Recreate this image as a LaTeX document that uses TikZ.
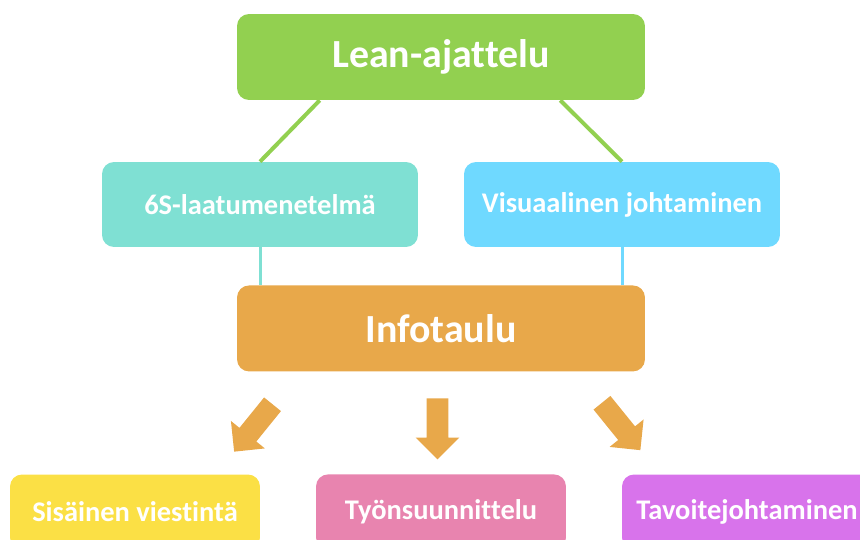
\documentclass[tikz,border=0pt]{standalone}
\usepackage{fontspec}
\setmainfont[Ligatures=CommonOff]{Carlito}
\usetikzlibrary{shapes.arrows}
\definecolor{leangreen}{HTML}{92D050}
\definecolor{sixteal}{HTML}{7FE0D3}
\definecolor{visblue}{HTML}{6FD9FF}
\definecolor{infoorange}{HTML}{E8A84A}
\definecolor{viestyellow}{HTML}{FBE045}
\definecolor{tyopink}{HTML}{E884AF}
\definecolor{tavpurple}{HTML}{D873EB}
\tikzset{
  box/.style={rounded corners=0.24cm, text=white, font=\bfseries, inner sep=0pt},
  bigbox/.style={box, minimum width=8.16cm, minimum height=1.72cm, font=\bfseries\fontsize{22.7}{27}\selectfont},
  midbox/.style={box, minimum width=6.32cm, minimum height=1.7cm, font=\bfseries\fontsize{16.2}{19}\selectfont},
  lowbox/.style={box, minimum width=5cm, minimum height=1.5cm, font=\bfseries\fontsize{16.2}{19}\selectfont},
  bigarrow/.style={single arrow, fill=infoorange, minimum height=1.22cm, minimum width=0.86cm,
    single arrow head extend=0.22cm, inner xsep=0pt, inner ysep=0.21cm}
}
\begin{document}
\begin{tikzpicture}[x=0.02cm, y=-0.02cm]
    \useasboundingbox (0,0) rectangle (860,540);
    \node[bigbox, fill=leangreen] (lean) at (441,57) {Lean-ajattelu};
    \node[bigbox, fill=infoorange, below of=lean, node distance=5.43cm] (info) {Infotaulu};
    \node[midbox, fill=sixteal] (six) at (260,204.5) {6S-laatumenetelmä};
    \node[midbox, fill=visblue] (vis) at (622,204.5) {Visuaalinen johtaminen};
    % alarivi
    \node[lowbox, fill=viestyellow] (viest) at (135,512) {Sisäinen viestintä};
    \node[lowbox, fill=tyopink, below of=info, node distance=3.67cm] (tyo) {Työnsuunnittelu};
    \node[lowbox, fill=tavpurple] (tav) at (747,512) {Tavoitejohtaminen};
    % nuolet
    \node[bigarrow, rotate=231] (nuoli1) at (256.75,423.75) {};
    \node[bigarrow, rotate=270] (nuoli2) at (437.5,423.5) {};
    \node[bigarrow, rotate=309] (nuoli3) at (617.75,422.25) {};
    % yhteydet
    \draw[leangreen, line width=0.8mm] ([xshift=1.66cm]lean.south west) -- (six.north);
    \draw[leangreen, line width=0.8mm] ([xshift=-1.7cm]lean.south east) -- (vis.north);
    \draw[sixteal, line width=0.6mm] (six.south) -- (six.south |- info.north);
    \draw[visblue, line width=0.6mm] (vis.south) -- (vis.south |- info.north);
\end{tikzpicture}
\end{document}
